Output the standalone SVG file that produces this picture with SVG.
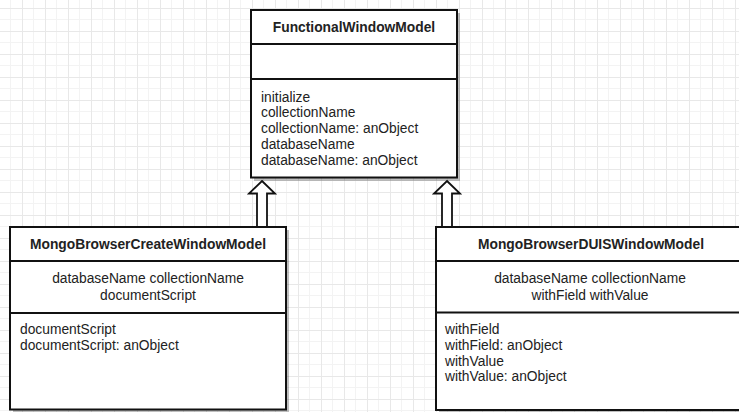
<svg xmlns="http://www.w3.org/2000/svg" width="739" height="412" viewBox="0 0 739 412">
  <defs>
    <pattern id="grid" patternUnits="userSpaceOnUse" x="22" y="8" width="23" height="23">
      <rect x="0" y="0" width="23" height="23" fill="#ffffff"/>
      <rect x="11" y="0" width="1" height="23" fill="#f3f3f3"/>
      <rect x="0" y="11" width="23" height="1" fill="#f3f3f3"/>
      <rect x="0" y="0" width="1" height="23" fill="#e8e8e8"/>
      <rect x="0" y="0" width="23" height="1" fill="#e8e8e8"/>
    </pattern>
    <style>
      .box { fill: #ffffff; stroke: #111111; stroke-width: 2; }
      .shadow { fill: #000000; opacity: 0.25; }
      .div { stroke: #111111; stroke-width: 2; fill: none; }
      .title { font-family: "Liberation Sans", Arial, sans-serif; font-size: 13.8px; font-weight: bold; fill: #222222; text-anchor: middle; }
      .txt { font-family: "Liberation Sans", Arial, sans-serif; font-size: 13.8px; fill: #222222; }
      .ctr { text-anchor: middle; }
      .arrow { fill: #ffffff; stroke: #111111; stroke-width: 1.8; stroke-linejoin: miter; }
    </style>
  </defs>
  <rect x="0" y="0" width="739" height="412" fill="url(#grid)"/>

  <g id="connectors">
    <path class="arrow" d="M262,181 L275,193.5 L267,193.5 L267,227 L257,227 L257,193.5 L249,193.5 Z"/>
    <path class="arrow" d="M447,181 L460,193.5 L452,193.5 L452,227 L442,227 L442,193.5 L434,193.5 Z"/>
  </g>

  <g id="FunctionalWindowModel">
    <rect class="shadow" x="254" y="13" width="206" height="168"/>
    <rect class="box" x="251" y="10" width="206" height="167.5"/>
    <line class="div" x1="251" y1="44" x2="457" y2="44"/>
    <line class="div" x1="251" y1="79" x2="457" y2="79"/>
    <text class="title" x="354" y="32">FunctionalWindowModel</text>
    <text class="txt" x="261" y="101.5">initialize</text>
    <text class="txt" x="261" y="117.3">collectionName</text>
    <text class="txt" x="261" y="133.1">collectionName: anObject</text>
    <text class="txt" x="261" y="148.9">databaseName</text>
    <text class="txt" x="261" y="164.7">databaseName: anObject</text>
  </g>

  <g id="MongoBrowserCreateWindowModel">
    <rect class="shadow" x="13" y="230" width="276" height="183"/>
    <rect class="box" x="10" y="227" width="276" height="182.5"/>
    <line class="div" x1="10" y1="261" x2="286" y2="261"/>
    <line class="div" x1="10" y1="313" x2="286" y2="313"/>
    <text class="title" x="148" y="249">MongoBrowserCreateWindowModel</text>
    <text class="txt ctr" x="148" y="283">databaseName collectionName</text>
    <text class="txt ctr" x="148" y="299.8">documentScript</text>
    <text class="txt" x="20" y="334">documentScript</text>
    <text class="txt" x="20" y="349.8">documentScript: anObject</text>
  </g>

  <g id="MongoBrowserDUISWindowModel">
    <rect class="shadow" x="439" y="230" width="312" height="183"/>
    <rect class="box" x="436" y="227" width="310" height="183"/>
    <line class="div" x1="436" y1="261" x2="746" y2="261"/>
    <line class="div" x1="436" y1="312.5" x2="746" y2="312.5"/>
    <text class="title" x="591" y="249">MongoBrowserDUISWindowModel</text>
    <text class="txt ctr" x="590" y="283">databaseName collectionName</text>
    <text class="txt ctr" x="590" y="299.8">withField withValue</text>
    <text class="txt" x="445" y="334">withField</text>
    <text class="txt" x="445" y="349.8">withField: anObject</text>
    <text class="txt" x="445" y="365.6">withValue</text>
    <text class="txt" x="445" y="381.4">withValue: anObject</text>
  </g>
</svg>
